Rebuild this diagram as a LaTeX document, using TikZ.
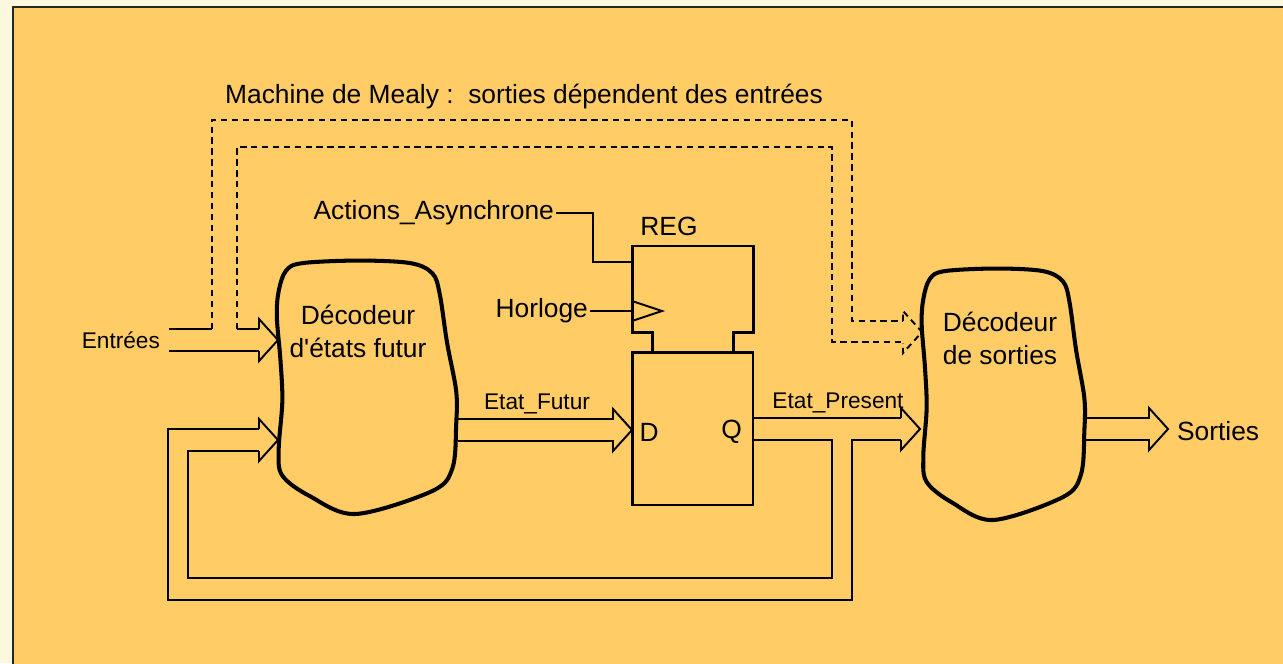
\documentclass[tikz,border=0pt]{standalone}
\usepackage{fontspec}
\setmainfont{Liberation Sans}
\usetikzlibrary{positioning, calc}
\definecolor{paleback}{RGB}{252, 248, 222}
\definecolor{sandorange}{RGB}{255, 204, 102}

\tikzset{
  decoder/.pic = {
    \draw[line width=2.3pt, line join=round] plot[smooth cycle, tension=0.55] coordinates {
      (0.02,0.13) (0.06,0.05) (0.15,0.02) (0.46,0.01) (0.74,0.02) (0.86,0.06)
      (0.90,0.14) (0.94,0.33) (0.99,0.52) (0.99,0.65) (0.97,0.82) (0.86,0.91)
      (0.44,1.00) (0.19,0.93) (0.04,0.85) (0.02,0.75) (0.04,0.56) (0.03,0.40) (0.01,0.23)};
  }
}
\newcommand{\fathead}[2][wire]{\draw[#1] ($(#2)+(-19,-11)$) -- ($(#2)+(-19,-21)$) -- (#2) -- ($(#2)+(-19,21)$) -- ($(#2)+(-19,11)$);}
\newcommand{\fatarrow}[2]{\draw[wire] ($(#1)+(0,-11)$) -- ($(#2)+(-19,-11)$) -- ($(#2)+(-19,-21)$) -- (#2) -- ($(#2)+(-19,21)$) -- ($(#2)+(-19,11)$) -- ($(#1)+(0,11)$);}

\begin{document}
\begin{tikzpicture}[
  x = 0.02cm, y = -0.02cm,
  wire/.style = {line width=1.1pt, line join=miter},
  dashwire/.style = {wire, dash pattern=on 3.6pt off 2.6pt},
  regline/.style = {line width=1.7pt, line join=miter},
  bigtxt/.style = {font=\fontsize{15}{18.7}\selectfont, inner sep=1pt},
  smalltxt/.style = {font=\fontsize{12.9}{15}\selectfont, inner sep=1pt},
  decotxt/.style = {bigtxt, align=center}
]
\fill[paleback] (0,0) rectangle (1283,663);
\useasboundingbox (0,0) rectangle (1283,663);
\clip (0,0) rectangle (1283,663);
\draw[line width=1.5pt, draw=black!85, fill=sandorange] (13,7) rectangle (1300,680);

\node[bigtxt] (title) at (524,97) {Machine de Mealy :\ \ sorties dépendent des entrées};

\pic[xscale=183, yscale=256] at (275,258) {decoder};
\node[decotxt] (fsd) at (358,331) {Décodeur\\d\textquotesingle états futur};
\pic[xscale=166, yscale=254] at (920,266) {decoder};
\node[decotxt] (osd) at (1000,338) {Décodeur\\de sorties};

\node[draw, regline, minimum width=2.42cm, minimum height=3.06cm, inner sep=0pt] (reg) at (692.5,428.5) {};
\draw[regline] (652,352) -- (652,332) -- (632,332) -- (632,246) -- (753,246) -- (753,332) -- (733,332) -- (733,352);
\node[bigtxt] (regname) at (669,226) {REG};
\node[bigtxt, right=4pt of reg.west, yshift=-2pt] (dpin) {D};
\node[bigtxt, left=6pt of reg.east, yshift=-2pt] (qpin) {Q};

\coordinate (clk) at (632,311);
\coordinate (arst) at (632,262);
\draw[wire] (632,301) -- (662,311) -- (632,321);
\node[bigtxt, anchor=east] (horloge) at (590,311) {Horloge};
\draw[wire] (horloge.east) -- (clk);
\node[bigtxt, anchor=east] (actions) at (556,213) {Actions\_Asynchrone};
\draw[wire] (actions.east) -- ++(37,0) |- (arst);

\coordinate (in-tail) at (169,340);
\coordinate (fsd-in) at (278,340);
\coordinate (fsd-fb) at (278,440);
\coordinate (fsd-out) at (458,430);
\coordinate (d-in) at (632,430);
\coordinate (q-out) at (753,429);
\coordinate (osd-in) at (920,429);
\coordinate (osd-dash) at (922,332);
\coordinate (osd-out) at (1085,429);
\coordinate (sorties-tip) at (1168,429);

\node[smalltxt, anchor=east] (entrees) at (162,340) {Entrées};
\draw[wire] ($(in-tail)+(0,11)$) -- ($(fsd-in)+(-19,11)$);
\draw[wire] ($(in-tail)+(0,-11)$) -- (212,329);
\draw[wire] (237,329) -- ($(fsd-in)+(-19,-11)$);
\fathead{fsd-in}

\draw[dashwire] (212,329) -- (212,120) -- (852,120) -- (852,321) -- (903,321);
\draw[dashwire] (237,329) -- (237,147) -- (832,147) -- (832,342) -- (903,342);
\fathead[dashwire]{osd-dash}

\fatarrow{fsd-out}{d-in}
\node[smalltxt] (futur) at (537,404) {Etat\_Futur};

\draw[wire] ($(q-out)+(0,-11)$) -- ($(osd-in)+(-19,-11)$);
\draw[wire] ($(q-out)+(0,11)$) -- (832,440) -- (832,578) -- (188,578) -- (188,451) -- ($(fsd-fb)+(-19,11)$);
\draw[wire] ($(osd-in)+(-19,11)$) -- (852,440) -- (852,600) -- (168,600) -- (168,429) -- ($(fsd-fb)+(-19,-11)$);
\fathead{osd-in}
\fathead{fsd-fb}
\node[smalltxt] (present) at (838,403) {Etat\_Present};

\fatarrow{osd-out}{sorties-tip}
\node[bigtxt, anchor=west] (sorties) at (1175,431) {Sorties};
\end{tikzpicture}
\end{document}
